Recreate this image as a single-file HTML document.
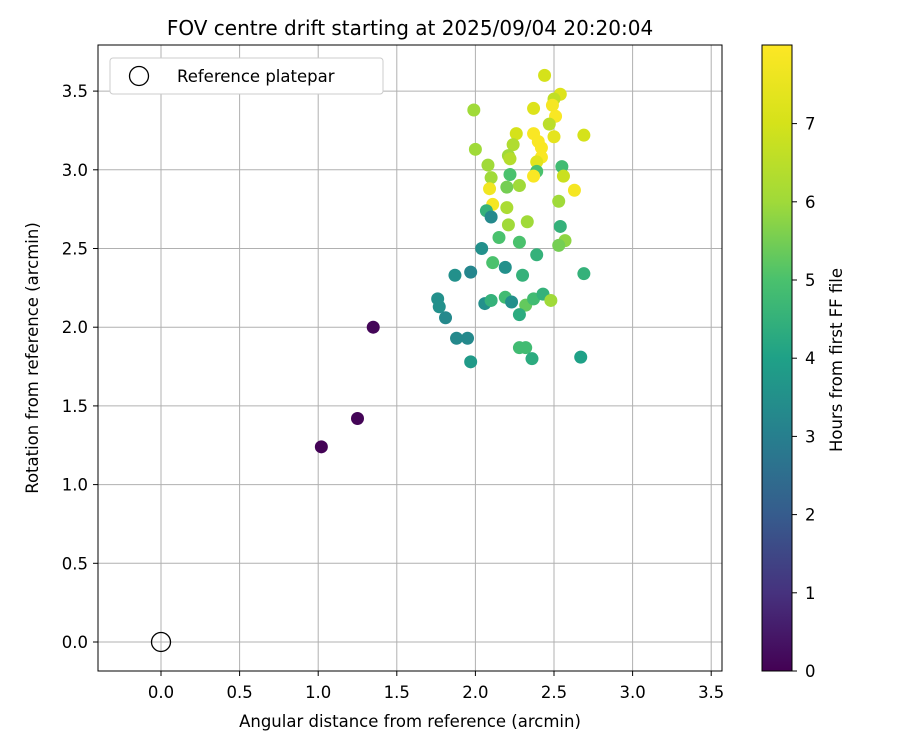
<!DOCTYPE html>
<html><head><meta charset="utf-8"><style>
body{margin:0;background:#fff;}
svg text{font-family:"DejaVu Sans","Liberation Sans",sans-serif;fill:#000;}
</style></head><body>
<svg id="chart" width="900" height="750" xmlns="http://www.w3.org/2000/svg">
<defs>
<linearGradient id="vir" x1="0" y1="1" x2="0" y2="0">
<stop offset="0" stop-color="#440154"/><stop offset="0.125" stop-color="#46327e"/><stop offset="0.25" stop-color="#365c8d"/><stop offset="0.375" stop-color="#277f8e"/><stop offset="0.5" stop-color="#1fa187"/><stop offset="0.625" stop-color="#4ac16d"/><stop offset="0.75" stop-color="#a0da39"/><stop offset="0.875" stop-color="#d5e21a"/><stop offset="1" stop-color="#fde725"/>
</linearGradient>
</defs>
<text x="410" y="35" text-anchor="middle" font-size="20">FOV centre drift starting at 2025/09/04 20:20:04</text>
<g id="grid"></g>
<g id="xticks"></g>
<g id="yticks"></g>
<g id="points"></g>
<rect x="98" y="45" width="624" height="626" fill="none" stroke="#000" stroke-width="1"/>
<text x="410" y="727" text-anchor="middle" font-size="16.5">Angular distance from reference (arcmin)</text>
<text transform="translate(38,358) rotate(-90)" text-anchor="middle" font-size="16.5">Rotation from reference (arcmin)</text>
<g>
<rect x="110" y="58" width="273" height="36" rx="3" fill="#fff" stroke="#ccc"/>
<circle cx="139" cy="76" r="9.5" fill="none" stroke="#000" stroke-width="1.3"/>
<text x="177" y="82" font-size="16.5">Reference platepar</text>
</g>
<rect x="762" y="45" width="30" height="626" fill="url(#vir)" stroke="#000" stroke-width="1"/>
<g id="cticks"></g>
<text transform="translate(842,360) rotate(-90)" text-anchor="middle" font-size="16.5">Hours from first FF file</text>
</svg>
<script>
const xVals=[1.02,1.25,1.35,2.44,2.54,2.50,2.37,2.49,2.51,2.47,1.99,2.26,2.37,2.50,2.69,2.40,2.24,2.42,2.00,2.21,2.22,2.42,2.39,2.55,2.08,2.39,2.56,2.37,2.10,2.22,2.20,2.28,2.09,2.63,2.11,2.07,2.10,2.20,2.53,2.21,2.33,2.54,2.15,2.28,2.57,2.53,2.04,2.39,2.11,2.19,2.69,1.87,1.97,2.30,1.76,1.77,1.81,2.06,2.10,2.19,2.23,2.32,2.37,2.43,2.48,2.28,1.88,1.95,2.28,2.32,2.36,1.97,2.67];
const yVals=[1.24,1.42,2.00,3.60,3.48,3.45,3.39,3.41,3.34,3.29,3.38,3.23,3.23,3.21,3.22,3.18,3.16,3.14,3.13,3.09,3.07,3.08,3.05,3.02,3.03,2.99,2.96,2.96,2.95,2.97,2.89,2.90,2.88,2.87,2.78,2.74,2.70,2.76,2.80,2.65,2.67,2.64,2.57,2.54,2.55,2.52,2.50,2.46,2.41,2.38,2.34,2.33,2.35,2.33,2.18,2.13,2.06,2.15,2.17,2.19,2.16,2.14,2.18,2.21,2.17,2.08,1.93,1.93,1.87,1.87,1.80,1.78,1.81];
const hours=[0.05,0.08,0.1,7.0,7.2,6.6,7.2,7.8,7.9,6.5,6.0,7.0,7.9,7.4,7.0,7.9,6.3,7.9,6.0,6.0,6.4,7.9,7.3,4.8,6.0,5.0,6.8,7.9,6.0,5.0,5.5,6.0,7.7,7.8,7.8,4.5,3.3,6.2,6.0,6.0,6.0,4.5,5.0,5.0,5.8,5.5,3.5,4.5,5.0,3.5,4.5,3.5,3.2,4.5,3.5,3.5,3.3,3.5,4.5,4.8,3.5,5.3,4.8,4.5,6.0,4.3,3.3,3.3,4.8,4.8,4.3,3.8,4.0];
const xTicks=["0.0","0.5","1.0","1.5","2.0","2.5","3.0","3.5"];
const yTicks=["0.0","0.5","1.0","1.5","2.0","2.5","3.0","3.5"];
const cTicks=["0","1","2","3","4","5","6","7"];
const NS="http://www.w3.org/2000/svg";
const sx=v=>161+v*157.2, sy=v=>642-v*157.4, sc=v=>671-v*78.2;
const vir=[[68,1,84],[70,50,126],[54,92,141],[39,127,142],[31,161,135],[74,193,109],[160,218,57],[213,226,26],[253,231,37]];
function color(h){let t=Math.max(0,Math.min(1,h/8))*8;let i=Math.min(7,Math.floor(t)),f=t-i;const a=vir[i],b=vir[i+1];return `rgb(${a.map((c,k)=>Math.round(c+(b[k]-c)*f)).join(',')})`;}
function mk(tag,attrs,parent){const e=document.createElementNS(NS,tag);for(const k in attrs)e.setAttribute(k,attrs[k]);parent.appendChild(e);return e;}
const grid=document.getElementById('grid'),xt=document.getElementById('xticks'),yt=document.getElementById('yticks'),pts=document.getElementById('points'),ct=document.getElementById('cticks');
xTicks.forEach(s=>{const x=sx(parseFloat(s));
const g=mk('line',{x1:x,x2:x,y1:45,y2:671,stroke:'#b0b0b0','stroke-width':1},grid);


const t=mk('line',{x1:x,x2:x,y1:671,y2:676,stroke:'#000'},xt);


const l=mk('text',{x:x,y:698,'text-anchor':'middle','font-size':16.5},xt);l.textContent=s;

});
yTicks.forEach(s=>{const y=sy(parseFloat(s));
const g=mk('line',{x1:98,x2:722,y1:y,y2:y,stroke:'#b0b0b0','stroke-width':1},grid);


const t=mk('line',{x1:93,x2:98,y1:y,y2:y,stroke:'#000'},yt);


const l=mk('text',{x:88,y:y+6,'text-anchor':'end','font-size':16.5},yt);l.textContent=s;

});
cTicks.forEach(s=>{const y=sc(parseFloat(s));
const t=mk('line',{x1:792,x2:797,y1:y,y2:y,stroke:'#000'},ct);


const l=mk('text',{x:805,y:y+6,'font-size':16.5},ct);l.textContent=s;

});
xVals.forEach((v,i)=>{const c=mk('circle',{cx:sx(v),cy:sy(yVals[i]),r:6.5,fill:color(hours[i])},pts);

});
const ref=mk('circle',{cx:sx(0),cy:sy(0),r:9.5,fill:'none',stroke:'#000','stroke-width':1.3},pts);


</script>
</body></html>
